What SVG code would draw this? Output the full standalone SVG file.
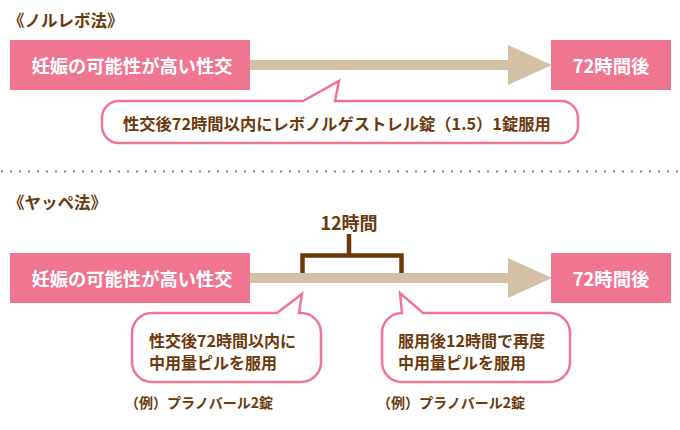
<svg xmlns="http://www.w3.org/2000/svg" width="680" height="430" viewBox="0 0 680 430">
<style>
text{font-family:"Noto Sans CJK JP","Noto Sans",sans-serif;font-weight:bold}
.box{fill:#ef7590}
.bt{fill:#ffffff;font-size:18.3px}
.title{fill:#6b3a0c;font-size:16.5px}
.t{fill:#6b3a0c;font-size:16px}
.ex{fill:#6b3a0c;font-size:14px}
.bub{fill:#ffffff;stroke:#ef7590;stroke-width:2.5;stroke-linejoin:miter}
.shaft{fill:#d3c1a5}
.brk{fill:none;stroke:#6b3a0c;stroke-width:4.5}
</style>
<rect width="680" height="430" fill="#ffffff"/>
<text class="title" x="8" y="20" dominant-baseline="central">《ノルレボ法》</text>
<text class="title" x="8" y="202" dominant-baseline="central">《ヤッペ法》</text>
<line x1="1" y1="171.5" x2="680" y2="171.5" stroke="#a08060" stroke-width="2" stroke-dasharray="2 7"/>
<g id="connectors">
<polygon class="shaft" points="250,60 508,60 508,45 552,65 508,85 508,70 250,70"/>
<polygon class="shaft" points="250,273 508,273 508,258 552,278 508,298 508,283 250,283"/>
</g>
<g id="bracket">
<path class="brk" d="M302.5,273 V255.5 H401.5 V273 M349,234 V255.5"/>
<text class="t" x="349" y="222" text-anchor="middle" dominant-baseline="central" style="font-size:18px">12時間</text>
</g>
<g id="n1">
<rect class="box" x="10" y="40" width="240" height="50"/>
<text class="bt" x="132" y="65" text-anchor="middle" dominant-baseline="central">妊娠の可能性が高い性交</text>
</g>
<g id="n2">
<rect class="box" x="551" y="40" width="120" height="50"/>
<text class="bt" x="611" y="65" text-anchor="middle" dominant-baseline="central">72時間後</text>
</g>
<g id="b1">
<path class="bub" d="M119,101 H303 L339,81 L335,101 H561 A17,17 0 0 1 578,118 V126 A17,17 0 0 1 561,143 H119 A17,17 0 0 1 102,126 V118 A17,17 0 0 1 119,101 Z"/>
<text class="t" x="123" y="123" dominant-baseline="central" style="font-size:16.3px">性交後72時間以内にレボノルゲストレル錠（1.5）1錠服用</text>
</g>
<g id="n3">
<rect class="box" x="10" y="253" width="240" height="50"/>
<text class="bt" x="132" y="278" text-anchor="middle" dominant-baseline="central">妊娠の可能性が高い性交</text>
</g>
<g id="n4">
<rect class="box" x="551" y="253" width="120" height="50"/>
<text class="bt" x="611" y="278" text-anchor="middle" dominant-baseline="central">72時間後</text>
</g>
<g id="b2">
<path class="bub" d="M152,313 H277 L302,294 L299,313 H301 A20,20 0 0 1 321,333 V362 A20,20 0 0 1 301,382 H152 A20,20 0 0 1 132,362 V333 A20,20 0 0 1 152,313 Z"/>
<text class="t" x="149" y="340" dominant-baseline="central">性交後72時間以内に</text>
<text class="t" x="149" y="362" dominant-baseline="central">中用量ピルを服用</text>
<text class="ex" x="125" y="402" dominant-baseline="central">（例）プラノバール2錠</text>
</g>
<g id="b3">
<path class="bub" d="M402,313 L400,293 L423,313 H550 A20,20 0 0 1 570,333 V362 A20,20 0 0 1 550,382 H402 A20,20 0 0 1 382,362 V333 A20,20 0 0 1 402,313 Z"/>
<text class="t" x="398" y="340" dominant-baseline="central">服用後12時間で再度</text>
<text class="t" x="398" y="362" dominant-baseline="central">中用量ピルを服用</text>
<text class="ex" x="377" y="402" dominant-baseline="central">（例）プラノバール2錠</text>
</g>
</svg>
